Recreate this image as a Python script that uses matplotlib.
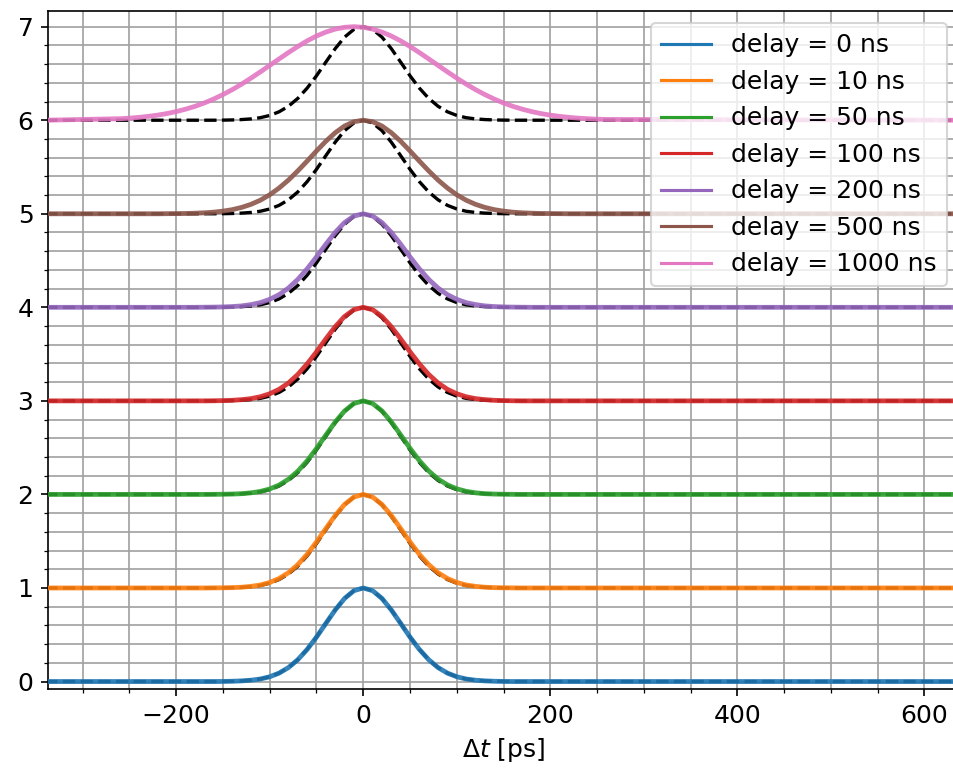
import matplotlib
matplotlib.use("Agg")
import matplotlib.pyplot as plt
from matplotlib.ticker import MultipleLocator

plt.rcParams["font.size"] = 12

# time axis samples [ps]
dt_ps = [-340,
         -260, -250, -240, -230, -220, -210, -200, -190, -180, -170,
         -160, -150, -140, -130, -120, -110, -100, -90, -80, -70,
         -60, -50, -40, -30, -20, -10, 0, 10, 20, 30,
         40, 50, 60, 70, 80, 90, 100, 110, 120, 130,
         140, 150, 160, 170, 180, 190, 200, 210, 220, 230,
         240, 250, 260,
         640]

delays_ns = [0, 10, 50, 100, 200, 500, 1000]

# normalised histograms, one per delay
h_0 = [0,
       0, 0, 0, 0, 0, 0, 0, 0, 0, 0,
       0, 0.001, 0.003, 0.007, 0.014, 0.027, 0.051, 0.090, 0.149, 0.233,
       0.343, 0.475, 0.621, 0.765, 0.888, 0.971, 1.0, 0.971, 0.888, 0.765,
       0.621, 0.475, 0.343, 0.233, 0.149, 0.090, 0.051, 0.027, 0.014, 0.007,
       0.003, 0.001, 0, 0, 0, 0, 0, 0, 0, 0,
       0, 0, 0,
       0]
h_10 = [0,
        0, 0, 0, 0, 0, 0, 0, 0, 0, 0,
        0.001, 0.002, 0.004, 0.008, 0.017, 0.032, 0.059, 0.101, 0.163, 0.249,
        0.360, 0.492, 0.635, 0.775, 0.893, 0.972, 1.0, 0.972, 0.893, 0.775,
        0.635, 0.492, 0.360, 0.249, 0.163, 0.101, 0.059, 0.032, 0.017, 0.008,
        0.004, 0.002, 0.001, 0, 0, 0, 0, 0, 0, 0,
        0, 0, 0,
        0]
h_50 = [0,
        0, 0, 0, 0, 0, 0, 0, 0, 0, 0,
        0.001, 0.002, 0.004, 0.008, 0.017, 0.032, 0.058, 0.100, 0.162, 0.248,
        0.359, 0.491, 0.634, 0.774, 0.892, 0.972, 1.0, 0.972, 0.893, 0.776,
        0.636, 0.493, 0.361, 0.250, 0.164, 0.102, 0.060, 0.033, 0.017, 0.008,
        0.004, 0.002, 0.001, 0, 0, 0, 0, 0, 0, 0,
        0, 0, 0,
        0]
h_100 = [0,
         0, 0, 0, 0, 0, 0, 0, 0, 0, 0,
         0.001, 0.003, 0.006, 0.013, 0.024, 0.044, 0.076, 0.123, 0.191, 0.282,
         0.395, 0.524, 0.662, 0.793, 0.902, 0.975, 1.0, 0.975, 0.902, 0.793,
         0.662, 0.524, 0.395, 0.282, 0.191, 0.123, 0.076, 0.044, 0.024, 0.013,
         0.006, 0.003, 0.001, 0, 0, 0, 0, 0, 0, 0,
         0, 0, 0,
         0]
h_200 = [0,
         0, 0, 0, 0, 0, 0, 0, 0, 0, 0.001,
         0.002, 0.004, 0.008, 0.015, 0.029, 0.050, 0.085, 0.135, 0.206, 0.298,
         0.411, 0.539, 0.674, 0.801, 0.906, 0.976, 1.0, 0.976, 0.906, 0.801,
         0.674, 0.539, 0.411, 0.298, 0.206, 0.135, 0.085, 0.050, 0.029, 0.015,
         0.008, 0.004, 0.002, 0.001, 0, 0, 0, 0, 0, 0,
         0, 0, 0,
         0]
h_500 = [0,
         0, 0, 0, 0, 0, 0.001, 0.002, 0.003, 0.006, 0.010,
         0.017, 0.028, 0.044, 0.068, 0.101, 0.145, 0.203, 0.275, 0.360, 0.458,
         0.563, 0.671, 0.775, 0.866, 0.938, 0.984, 1.0, 0.984, 0.938, 0.866,
         0.775, 0.671, 0.563, 0.458, 0.360, 0.275, 0.203, 0.145, 0.101, 0.068,
         0.044, 0.028, 0.017, 0.010, 0.006, 0.003, 0.002, 0.001, 0, 0,
         0, 0, 0,
         0]
h_1000 = [0,
          0.016, 0.022, 0.030, 0.041, 0.054, 0.071, 0.092, 0.118, 0.148, 0.184,
          0.226, 0.274, 0.327, 0.386, 0.450, 0.517, 0.586, 0.655, 0.723, 0.788,
          0.848, 0.900, 0.942, 0.974, 0.993, 1.0, 0.993, 0.974, 0.942, 0.900,
          0.848, 0.788, 0.723, 0.655, 0.586, 0.517, 0.450, 0.386, 0.327, 0.274,
          0.226, 0.184, 0.148, 0.118, 0.092, 0.071, 0.054, 0.041, 0.030, 0.022,
          0.016, 0.011, 0.008,
          0]

# gaussian fit of the delay = 0 ns trace, drawn dashed under every curve
ref_fit = [0,
           0, 0, 0, 0, 0, 0, 0, 0, 0, 0,
           0, 0.001, 0.003, 0.007, 0.014, 0.027, 0.051, 0.090, 0.149, 0.233,
           0.343, 0.475, 0.621, 0.765, 0.888, 0.971, 1.0, 0.971, 0.888, 0.765,
           0.621, 0.475, 0.343, 0.233, 0.149, 0.090, 0.051, 0.027, 0.014, 0.007,
           0.003, 0.001, 0, 0, 0, 0, 0, 0, 0, 0,
           0, 0, 0,
           0]

traces = [h_0, h_10, h_50, h_100, h_200, h_500, h_1000]

fig = plt.figure(figsize=(953 / 150, 774 / 150), dpi=150)
ax = fig.add_axes([0.0504, 0.1098, 0.956, 0.8763])

for i, (d, h) in enumerate(zip(delays_ns, traces)):
    ax.plot(dt_ps, [v + i for v in ref_fit], "k--", lw=1.6, zorder=2)
    ax.plot(dt_ps, [v + i for v in h], color=f"C{i}", lw=2.3, alpha=0.9,
            label=f"delay = {d} ns", zorder=3)

ax.set_xlim(-337, 637)
ax.set_ylim(-0.08, 7.17)
ax.xaxis.set_major_locator(MultipleLocator(200))
ax.xaxis.set_minor_locator(MultipleLocator(50))
ax.yaxis.set_major_locator(MultipleLocator(1))
ax.yaxis.set_minor_locator(MultipleLocator(0.2))
ax.grid(which="both", color="#a0a0a0", lw=0.8)
ax.set_axisbelow(True)
ax.set_xlabel(r"$\Delta t$ [ps]")

leg = ax.legend(loc="upper right")
for line in leg.get_lines():
    line.set_alpha(1.0)
    line.set_linewidth(1.5)

fig.savefig("out.png", dpi=150)
